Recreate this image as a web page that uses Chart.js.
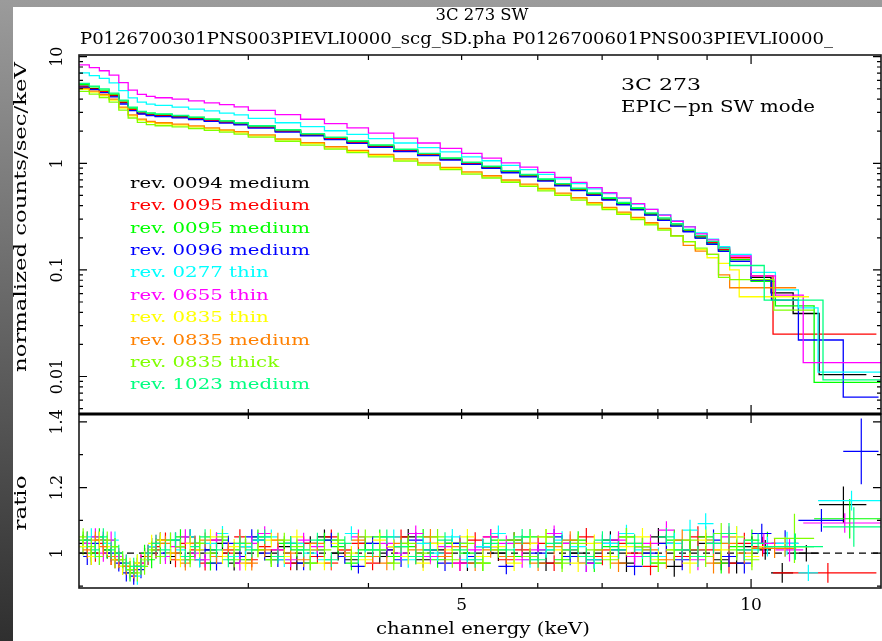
<!DOCTYPE html>
<html>
<head>
<meta charset="utf-8">
<title>3C 273 SW</title>
<script src="https://cdn.jsdelivr.net/npm/chart.js@4.4.1/dist/chart.umd.min.js"></script>
<style>
  html, body { margin: 0; padding: 0; }
  body { width: 882px; height: 641px; overflow: hidden; position: relative;
         background: linear-gradient(to bottom, #9b9b9b, #2f2f2f); }
  #paper { position: absolute; left: 13px; top: 7px; right: 0; bottom: 0; background: #fff; }
  canvas { position: absolute; left: 0; top: 0; }
</style>
</head>
<body>
<div id="paper"></div>
<canvas id="spec" width="882" height="641"></canvas>
<canvas id="ratio" width="882" height="641"></canvas>
<script>
// Series (legend order = plot order)
var seriesLabels = ['rev. 0094 medium', 'rev. 0095 medium', 'rev. 0095 medium', 'rev. 0096 medium',
  'rev. 0277 thin', 'rev. 0655 thin', 'rev. 0835 thin', 'rev. 0835 medium', 'rev. 0835 thick', 'rev. 1023 medium'];
var seriesColors = ['#000000', '#ff0000', '#00ff00', '#0000ff', '#00ffff',
  '#ff00ff', '#ffff00', '#ff8000', '#80ff00', '#00ff80'];

// Upper panel: counts/sec/keV, bin edges in keV (shared part, 2 - 9.5 keV)
var specEdges = [2.0, 2.05, 2.1, 2.15, 2.2, 2.25, 2.3, 2.35, 2.4, 2.5, 2.6, 2.7, 2.8, 2.9, 3.0,
  3.2, 3.4, 3.6, 3.8, 4.0, 4.25, 4.5, 4.75, 5.0, 5.25, 5.5, 5.75, 6.0, 6.25, 6.5, 6.75, 7.0,
  7.25, 7.5, 7.75, 8.0, 8.25, 8.5, 8.75, 9.0, 9.25, 9.5];

var spec_0094_medium = [5.3, 5.0, 4.7, 4.3, 3.7, 3.2, 2.95, 2.85, 2.8, 2.72, 2.62, 2.52, 2.43, 2.33, 2.18, 2.0, 1.84, 1.70, 1.57, 1.44,
  1.31, 1.20, 1.09, 0.99, 0.91, 0.83, 0.76, 0.69, 0.625, 0.565, 0.51, 0.46, 0.415, 0.37, 0.33, 0.295, 0.26, 0.23, 0.20, 0.175, 0.15];
var spec_0095_medium = [5.2, 4.95, 4.7, 4.35, 3.75, 3.2, 2.93, 2.83, 2.78, 2.7, 2.61, 2.52, 2.43, 2.33, 2.17, 2.0, 1.85, 1.71, 1.57, 1.45,
  1.32, 1.21, 1.10, 1.0, 0.92, 0.84, 0.77, 0.70, 0.63, 0.57, 0.515, 0.465, 0.42, 0.375, 0.335, 0.30, 0.265, 0.235, 0.205, 0.18, 0.155];
var spec_0095_medium_b = [5.5, 5.2, 4.85, 4.45, 3.85, 3.3, 3.05, 2.95, 2.88, 2.8, 2.7, 2.6, 2.5, 2.4, 2.24, 2.06, 1.89, 1.75, 1.61, 1.48,
  1.35, 1.23, 1.12, 1.02, 0.93, 0.85, 0.78, 0.705, 0.64, 0.575, 0.52, 0.47, 0.42, 0.375, 0.335, 0.30, 0.263, 0.232, 0.202, 0.176, 0.151];
var spec_0096_medium = [5.15, 4.9, 4.6, 4.2, 3.6, 3.12, 2.9, 2.8, 2.74, 2.67, 2.57, 2.47, 2.38, 2.29, 2.14, 1.96, 1.81, 1.67, 1.54, 1.41,
  1.29, 1.18, 1.07, 0.975, 0.895, 0.815, 0.745, 0.68, 0.615, 0.555, 0.5, 0.452, 0.408, 0.365, 0.326, 0.291, 0.257, 0.228, 0.199, 0.174, 0.149];
var spec_0277_thin = [7.05, 6.65, 6.25, 5.68, 4.81, 4.1, 3.75, 3.59, 3.5, 3.37, 3.22, 3.1, 2.96, 2.84, 2.64, 2.4, 2.21, 2.02, 1.87, 1.70,
  1.55, 1.40, 1.28, 1.15, 1.056, 0.955, 0.874, 0.787, 0.713, 0.644, 0.576, 0.52, 0.469, 0.414, 0.37, 0.33, 0.289, 0.255, 0.222, 0.194, 0.165];
var spec_0655_thin = [8.37, 7.9, 7.38, 6.7, 5.7, 4.86, 4.43, 4.25, 4.12, 4.0, 3.85, 3.68, 3.55, 3.38, 3.14, 2.86, 2.59, 2.36, 2.15, 1.92,
  1.72, 1.55, 1.38, 1.24, 1.12, 1.01, 0.92, 0.821, 0.738, 0.661, 0.592, 0.529, 0.473, 0.418, 0.37, 0.327, 0.286, 0.253, 0.218, 0.191, 0.162];
var spec_0835_thin = [4.93, 4.65, 4.32, 3.91, 3.29, 2.78, 2.54, 2.42, 2.35, 2.28, 2.2, 2.1, 2.02, 1.93, 1.81, 1.66, 1.53, 1.39, 1.29, 1.18,
  1.07, 0.984, 0.894, 0.812, 0.746, 0.681, 0.623, 0.566, 0.513, 0.463, 0.418, 0.377, 0.34, 0.303, 0.271, 0.242, 0.21, 0.183, 0.155, 0.13, 0.115];
var spec_0835_medium = [5.04, 4.75, 4.42, 4.0, 3.37, 2.85, 2.6, 2.47, 2.4, 2.33, 2.24, 2.15, 2.06, 1.98, 1.85, 1.69, 1.56, 1.43, 1.32, 1.21,
  1.1, 1.01, 0.916, 0.832, 0.764, 0.697, 0.638, 0.58, 0.525, 0.475, 0.428, 0.386, 0.349, 0.311, 0.277, 0.245, 0.21, 0.17, 0.15, 0.14, 0.09];
var spec_0835_thick = [4.72, 4.45, 4.14, 3.74, 3.15, 2.66, 2.42, 2.31, 2.25, 2.2, 2.12, 2.04, 1.96, 1.88, 1.76, 1.61, 1.48, 1.36, 1.26, 1.15,
  1.05, 0.96, 0.872, 0.792, 0.728, 0.664, 0.608, 0.552, 0.5, 0.452, 0.408, 0.368, 0.332, 0.296, 0.264, 0.236, 0.208, 0.184, 0.16, 0.14, 0.085];
var spec_1023_medium = [5.62, 5.3, 4.98, 4.56, 3.92, 3.36, 3.07, 2.96, 2.9, 2.81, 2.71, 2.6, 2.5, 2.4, 2.25, 2.06, 1.9, 1.75, 1.62, 1.48,
  1.35, 1.24, 1.12, 1.02, 0.94, 0.855, 0.785, 0.712, 0.645, 0.583, 0.527, 0.476, 0.43, 0.384, 0.343, 0.307, 0.271, 0.24, 0.21, 0.185, 0.16];

// High-energy wide bins, one list per series
var specTailEdges = [
  [9.5, 10.0, 10.49, 11.06, 11.77, 13.18],
  [9.5, 10.0, 10.54, 13.5],
  [9.5, 10.0, 10.6, 11.63, 13.7],
  [9.5, 10.0, 10.5, 11.2, 12.47, 13.57],
  [9.5, 10.0, 10.6, 11.2, 11.74, 13.7],
  [9.5, 10.0, 10.6, 11.33, 13.7],
  [9.5, 9.72, 11.49],
  [9.5, 11.14],
  [9.5, 10.56, 11.63],
  [9.5, 10.32, 11.88, 13.7]
];
var specTailCounts = [
  [0.12, 0.085, 0.061, 0.039, 0.0104],
  [0.13, 0.088, 0.025],
  [0.125, 0.078, 0.046, 0.0088],
  [0.12, 0.08, 0.052, 0.022, 0.0064],
  [0.14, 0.095, 0.065, 0.044, 0.011],
  [0.135, 0.088, 0.058, 0.0135],
  [0.1, 0.056],
  [0.068],
  [0.081, 0.042],
  [0.11, 0.052, 0.0093]
];

// Lower panel: data/model ratio. Two binnings (A for even series, B for odd)
var ratioEdgesA = [2.00, 2.04, 2.08, 2.12, 2.16, 2.20, 2.24, 2.28, 2.32, 2.36, 2.40, 2.46, 2.52, 2.58, 2.64, 2.70,
  2.78, 2.86, 2.94, 3.02, 3.12, 3.22, 3.32, 3.42, 3.54, 3.66, 3.78, 3.90, 4.04, 4.18, 4.32, 4.48, 4.64, 4.80,
  4.98, 5.16, 5.36, 5.56, 5.78, 6.00, 6.24, 6.48, 6.74, 7.00, 7.28, 7.56, 7.86, 8.16, 8.48, 8.80, 9.14, 9.48, 9.84, 10.20];
var ratioEdgesB = [2.02, 2.06, 2.10, 2.14, 2.18, 2.22, 2.26, 2.30, 2.34, 2.38, 2.43, 2.49, 2.55, 2.61, 2.67, 2.74,
  2.82, 2.90, 2.98, 3.07, 3.17, 3.27, 3.37, 3.48, 3.60, 3.72, 3.84, 3.97, 4.11, 4.25, 4.40, 4.56, 4.72, 4.89,
  5.07, 5.26, 5.46, 5.67, 5.89, 6.12, 6.36, 6.61, 6.87, 7.14, 7.42, 7.71, 8.01, 8.32, 8.64, 8.97, 9.31, 9.66, 10.02];
var ratioErrA = [0.026, 0.026, 0.026, 0.026, 0.026, 0.026, 0.026, 0.026, 0.026, 0.026,
  0.023, 0.023, 0.023, 0.023, 0.023, 0.023, 0.023, 0.023, 0.023,
  0.022, 0.022, 0.022, 0.022, 0.022, 0.022, 0.022, 0.022, 0.022, 0.022, 0.022,
  0.024, 0.024, 0.024, 0.024, 0.024, 0.024, 0.024, 0.024, 0.024, 0.024,
  0.027, 0.027, 0.027, 0.027, 0.027, 0.027, 0.027,
  0.032, 0.032, 0.032, 0.032, 0.032, 0.032];
var ratioErrB = [0.026, 0.026, 0.026, 0.026, 0.026, 0.026, 0.026, 0.026, 0.026, 0.026,
  0.023, 0.023, 0.023, 0.023, 0.023, 0.023, 0.023, 0.023, 0.023,
  0.022, 0.022, 0.022, 0.022, 0.022, 0.022, 0.022, 0.022, 0.022, 0.022, 0.022,
  0.024, 0.024, 0.024, 0.024, 0.024, 0.024, 0.024, 0.024, 0.024, 0.024,
  0.027, 0.027, 0.027, 0.027, 0.027, 0.027, 0.027,
  0.032, 0.032, 0.032, 0.032, 0.032];

var ratio_0094_medium = [1.03, 0.99, 1.04, 1.01, 0.98, 0.97, 0.95, 0.96, 0.99, 1.02,
  1.04, 0.99, 1.02, 1.05, 0.98, 1.01, 1.03, 0.97, 1.02, 1.04,
  0.99, 1.02, 0.97, 1.03, 1.05, 1.00, 0.98, 1.03, 0.99, 1.02,
  1.05, 0.98, 1.01, 1.03, 0.97, 1.02, 1.00, 1.04, 0.99, 0.97,
  1.03, 1.00, 0.98, 1.04, 0.97, 1.02, 1.05, 0.96, 1.01, 1.03,
  0.98, 0.97, 1.02];
var ratio_0095_medium = [1.04, 1.00, 1.03, 0.99, 0.98, 0.96, 0.94, 0.97, 1.00, 1.02,
  1.04, 0.98, 1.03, 1.01, 0.97, 1.04, 1.00, 1.05, 0.98, 1.02,
  1.01, 0.97, 1.03, 0.99, 1.05, 1.01, 1.03, 0.97, 1.01, 1.05,
  0.99, 1.03, 1.00, 0.97, 1.04, 1.05, 0.98, 1.01, 1.03, 0.97,
  1.01, 1.05, 0.99, 1.03, 1.00, 0.96, 1.03, 0.99, 1.05, 1.01,
  0.97, 1.03];
var ratio_0095_medium_b = [1.04, 1.00, 1.05, 1.01, 1.02, 0.96, 0.94, 0.97, 1.00, 0.98,
  1.03, 1.00, 1.05, 0.99, 1.03, 0.97, 1.04, 1.01, 0.98, 1.05,
  0.98, 1.03, 1.01, 0.97, 1.04, 1.02, 0.97, 1.01, 1.05, 0.99,
  1.02, 1.05, 0.98, 1.03, 1.00, 0.97, 1.04, 0.99, 1.05, 1.01,
  0.98, 1.04, 0.97, 1.02, 1.05, 0.99, 0.97, 1.04, 1.01, 1.05,
  0.97, 1.02, 1.04];
var ratio_0096_medium = [0.99, 1.03, 1.04, 1.00, 0.97, 0.94, 0.93, 0.95, 0.99, 1.01,
  1.00, 1.04, 0.98, 1.03, 1.01, 0.97, 1.03, 0.99, 1.05, 1.00,
  0.98, 1.03, 0.97, 1.01, 1.04, 0.99, 0.96, 1.03, 1.01, 0.98,
  1.04, 1.01, 0.97, 1.03, 0.99, 1.02, 0.96, 1.03, 1.00, 1.05,
  0.99, 0.97, 1.03, 1.01, 0.96, 1.00, 1.03, 0.98, 1.01, 1.04,
  0.99, 0.97];
var ratio_0277_thin = [1.02, 1.05, 0.99, 1.03, 1.04, 0.98, 0.95, 0.93, 0.98, 1.02,
  0.99, 1.04, 1.01, 1.05, 0.98, 1.03, 1.06, 0.99, 1.02, 1.04,
  1.05, 0.98, 1.03, 1.00, 0.98, 1.04, 1.06, 0.99, 1.01, 1.05,
  0.98, 1.03, 1.00, 1.05, 0.98, 1.02, 1.06, 1.03, 0.98, 1.01,
  1.04, 1.02, 0.98, 1.03, 1.06, 1.01, 0.99, 1.03, 1.07, 1.09,
  1.03, 1.05, 1.01];
var ratio_0655_thin = [1.03, 1.05, 1.00, 1.04, 0.99, 0.97, 0.95, 0.97, 1.00, 1.03,
  0.99, 1.02, 1.05, 1.00, 0.98, 1.04, 1.01, 0.97, 1.03, 1.06,
  1.01, 0.98, 1.04, 1.02, 0.97, 1.01, 1.05, 0.99, 1.03, 1.00,
  1.06, 0.99, 1.02, 0.97, 1.01, 1.05, 1.03, 0.98, 1.01, 1.06,
  1.03, 0.97, 1.01, 1.04, 0.99, 1.03, 1.07, 1.01, 0.98, 1.03,
  1.05, 1.01];
var ratio_0835_thin = [1.02, 0.99, 1.04, 1.02, 0.98, 0.96, 0.96, 0.97, 0.98, 1.03,
  1.04, 1.00, 0.98, 1.03, 1.01, 1.05, 0.99, 1.02, 0.97, 1.01,
  1.04, 0.99, 1.05, 1.01, 0.97, 1.03, 1.00, 0.98, 1.04, 1.02,
  0.99, 0.97, 1.03, 1.01, 1.05, 0.99, 1.02, 0.97, 1.03, 1.05,
  1.01, 0.97, 1.03, 0.99, 1.02, 1.05, 0.98, 1.01, 0.97, 1.04,
  1.01, 1.05, 0.99];
var ratio_0835_medium = [1.01, 1.04, 1.02, 0.99, 0.98, 0.96, 0.95, 0.96, 0.99, 1.01,
  1.03, 1.00, 0.97, 1.03, 1.04, 0.99, 1.01, 1.03, 0.97, 1.01,
  1.04, 1.00, 0.98, 1.03, 0.97, 1.01, 1.04, 0.99, 0.97, 1.03,
  1.01, 1.05, 0.99, 1.02, 0.97, 1.01, 0.99, 1.03, 0.97, 1.02,
  1.04, 0.99, 1.01, 0.97, 1.03, 1.01, 0.98, 1.04, 1.01, 0.97,
  1.03, 1.00];
var ratio_0835_thick = [1.05, 1.02, 0.99, 1.04, 1.02, 0.98, 0.95, 0.94, 0.96, 1.01,
  0.99, 1.04, 1.02, 0.98, 1.03, 1.00, 1.05, 0.98, 1.03, 1.01,
  0.98, 1.04, 1.02, 0.97, 1.01, 1.04, 0.99, 1.05, 1.01, 0.97,
  1.03, 1.00, 1.05, 0.98, 1.03, 0.97, 1.01, 1.04, 0.99, 1.05,
  0.97, 1.03, 1.01, 0.98, 1.05, 1.02, 0.97, 1.01, 1.04, 0.99,
  1.06, 1.01, 0.98];
var ratio_1023_medium = [1.04, 1.01, 1.05, 1.01, 1.00, 0.97, 0.96, 0.96, 1.00, 1.03,
  1.01, 1.04, 0.99, 1.02, 1.05, 1.01, 0.98, 1.03, 1.01, 1.05,
  0.99, 1.03, 1.01, 1.04, 0.98, 1.03, 0.99, 1.01, 1.05, 1.02,
  0.99, 1.01, 1.04, 1.01, 0.98, 1.03, 1.01, 1.05, 0.98, 1.03,
  1.01, 0.99, 1.04, 1.01, 1.03, 0.99, 1.05, 1.01, 0.99, 1.03,
  1.06, 1.01];

// High-energy ratio bins: [E low, E high, ratio, error]
var ratioTails = [
  [[10.2, 10.49, 1.01, 0.03], [10.49, 11.06, 0.94, 0.03], [11.06, 11.77, 1.0, 0.025], [11.77, 13.18, 1.148, 0.055]],
  [[10.02, 10.54, 1.02, 0.03], [10.54, 13.5, 0.94, 0.03]],
  [[10.2, 10.6, 1.03, 0.035], [10.6, 11.63, 1.02, 0.04], [11.63, 13.7, 1.105, 0.06]],
  [[10.02, 10.5, 1.06, 0.03], [10.5, 11.2, 1.03, 0.04], [11.2, 12.47, 1.10, 0.035], [12.47, 13.57, 1.31, 0.10]],
  [[10.2, 10.6, 1.02, 0.03], [10.6, 11.2, 1.03, 0.035], [11.2, 11.74, 0.94, 0.025], [11.74, 13.7, 1.16, 0.03]],
  [[10.02, 10.6, 1.03, 0.03], [10.6, 11.33, 1.01, 0.035], [11.33, 13.7, 1.092, 0.03]],
  [[10.2, 11.49, 1.02, 0.03]],
  [[10.02, 11.14, 1.015, 0.03]],
  [[10.56, 11.63, 1.045, 0.075]],
  [[10.02, 10.32, 1.03, 0.03], [10.32, 11.88, 1.02, 0.04], [11.88, 13.7, 1.08, 0.06]]
];

// Axis ticks
var xMinorTicks = [3, 4, 5, 6, 7, 8, 9];
var xMajorTicks = [10];
var xTickLabels = [5, 10];
var specYMajor = [0.01, 0.1, 1, 10];
var ratioYMajor = [1, 1.2, 1.4];
var ratioYMinor = [0.9, 1.1, 1.3];

var specSeries = [spec_0094_medium, spec_0095_medium, spec_0095_medium_b, spec_0096_medium, spec_0277_thin,
  spec_0655_thin, spec_0835_thin, spec_0835_medium, spec_0835_thick, spec_1023_medium];
var ratioSeries = [ratio_0094_medium, ratio_0095_medium, ratio_0095_medium_b, ratio_0096_medium, ratio_0277_thin,
  ratio_0655_thin, ratio_0835_thin, ratio_0835_medium, ratio_0835_thick, ratio_1023_medium];

var X_MIN = 2.0, X_MAX = 13.65;
var FONT = '"DejaVu Serif", "Liberation Serif", serif';

// text in the plot style; width stretches the string horizontally
function pgText(ctx, s, x, y, o) {
  o = o || {};
  ctx.save();
  ctx.font = (o.size || 15) + 'px ' + FONT;
  ctx.fillStyle = o.color || '#000';
  ctx.textBaseline = 'middle';
  ctx.textAlign = o.align || 'center';
  var w = ctx.measureText(s).width;
  var sx = o.width ? o.width / w : (o.sx || 1);
  ctx.translate(x, y);
  if (o.rot) ctx.rotate(o.rot);
  ctx.scale(sx, 1);
  ctx.fillText(s, 0, 0);
  ctx.restore();
}

function logMinors(lo, hi) {
  var out = [];
  for (var e = Math.floor(Math.log10(lo)); e <= Math.ceil(Math.log10(hi)); e++) {
    for (var m = 2; m <= 9; m++) {
      var v = m * Math.pow(10, e);
      if (v >= lo && v <= hi) out.push(v);
    }
  }
  return out;
}

// Frame with inward ticks on all four sides
function pgAxes(cfg) {
  return {
    id: 'pgAxes',
    afterDraw: function(chart) {
      var ctx = chart.ctx, a = chart.chartArea, xs = chart.scales.x, ys = chart.scales.y;
      ctx.save();
      ctx.strokeStyle = '#000';
      ctx.lineWidth = 1.2;
      ctx.beginPath();
      xMinorTicks.forEach(function(v) {
        var p = xs.getPixelForValue(v);
        ctx.moveTo(p, a.top); ctx.lineTo(p, a.top + 5);
        ctx.moveTo(p, a.bottom); ctx.lineTo(p, a.bottom - 5);
      });
      xMajorTicks.forEach(function(v) {
        var p = xs.getPixelForValue(v);
        ctx.moveTo(p, a.top); ctx.lineTo(p, a.top + 9);
        ctx.moveTo(p, a.bottom); ctx.lineTo(p, a.bottom - 9);
      });
      cfg.yMinor.forEach(function(v) {
        var p = ys.getPixelForValue(v);
        ctx.moveTo(a.left, p); ctx.lineTo(a.left + 4, p);
        ctx.moveTo(a.right, p); ctx.lineTo(a.right - 4, p);
      });
      cfg.yMajor.forEach(function(v) {
        var p = ys.getPixelForValue(v);
        ctx.moveTo(a.left, p); ctx.lineTo(a.left + 8, p);
        ctx.moveTo(a.right, p); ctx.lineTo(a.right - 8, p);
      });
      ctx.stroke();
      ctx.lineWidth = 1.6;
      ctx.strokeStyle = '#1a1a1a';
      ctx.strokeRect(a.left, a.top, a.right - a.left, a.bottom - a.top);
      cfg.yMajor.forEach(function(v) {
        pgText(ctx, String(v), 58, ys.getPixelForValue(v), { size: 16, rot: -Math.PI / 2 });
      });
      if (cfg.extra) cfg.extra(chart);
      ctx.restore();
    }
  };
}

// Error crosses for the ratio panel
var crossPlugin = {
  id: 'crosses',
  afterDatasetsDraw: function(chart) {
    var ctx = chart.ctx, a = chart.chartArea, xs = chart.scales.x, ys = chart.scales.y;
    ctx.save();
    ctx.beginPath();
    ctx.rect(a.left, a.top, a.right - a.left, a.bottom - a.top);
    ctx.clip();
    ctx.lineWidth = 1.2;
    chart.data.datasets.forEach(function(ds) {
      if (!ds.crosses) return;
      ctx.strokeStyle = ds.borderColor;
      ctx.beginPath();
      ds.data.forEach(function(p) {
        var px = xs.getPixelForValue(p.x), py = ys.getPixelForValue(p.y);
        ctx.moveTo(xs.getPixelForValue(p.lo), py);
        ctx.lineTo(xs.getPixelForValue(p.hi), py);
        ctx.moveTo(px, ys.getPixelForValue(p.y - p.e));
        ctx.lineTo(px, ys.getPixelForValue(p.y + p.e));
      });
      ctx.stroke();
    });
    ctx.restore();
  }
};

function stepPoints(k) {
  var vals = specSeries[k], pts = [];
  for (var i = 0; i < vals.length; i++) pts.push({ x: specEdges[i], y: vals[i] });
  var te = specTailEdges[k], tc = specTailCounts[k];
  for (var j = 0; j < tc.length; j++) pts.push({ x: te[j], y: tc[j] });
  pts.push({ x: te[te.length - 1], y: tc[tc.length - 1] });
  return pts;
}

function ratioPoints(k) {
  var edges = k % 2 === 0 ? ratioEdgesA : ratioEdgesB;
  var errs = k % 2 === 0 ? ratioErrA : ratioErrB;
  var vals = ratioSeries[k], pts = [];
  for (var i = 0; i < vals.length && i + 1 < edges.length; i++) {
    pts.push({ x: (edges[i] + edges[i + 1]) / 2, y: vals[i], lo: edges[i], hi: edges[i + 1], e: errs[i] });
  }
  ratioTails[k].forEach(function(t) {
    pts.push({ x: (t[0] + t[1]) / 2, y: t[2], lo: t[0], hi: t[1], e: t[3] });
  });
  return pts;
}

var specSets = seriesLabels.map(function(label, k) {
  return {
    label: label, data: stepPoints(k), borderColor: seriesColors[k], borderWidth: 1.3,
    stepped: 'before', pointRadius: 0, fill: false, order: 9 - k
  };
});

var ratioSets = [{
  label: 'unity', data: [{ x: X_MIN, y: 1 }, { x: X_MAX, y: 1 }], borderColor: '#000',
  borderWidth: 1.2, borderDash: [7, 5], pointRadius: 0, fill: false
}].concat(seriesLabels.map(function(label, k) {
  return { label: label, data: ratioPoints(k), borderColor: seriesColors[k], showLine: false, pointRadius: 0, crosses: true };
}));

function baseOptions(padding, yType, yMin, yMax) {
  return {
    responsive: false,
    animation: false,
    events: [],
    layout: { padding: padding },
    plugins: { legend: { display: false }, tooltip: { enabled: false } },
    scales: {
      x: { type: 'logarithmic', min: X_MIN, max: X_MAX, display: false },
      y: { type: yType, min: yMin, max: yMax, display: false }
    }
  };
}

new Chart(document.getElementById('spec'), {
  type: 'line',
  data: { datasets: specSets },
  options: baseOptions({ left: 79, top: 55, right: 1, bottom: 227 }, 'logarithmic', 0.00445, 10.37),
  plugins: [pgAxes({
    yMajor: specYMajor,
    yMinor: logMinors(0.00445, 10.37),
    extra: function(chart) {
      var ctx = chart.ctx;
      pgText(ctx, '3C 273 SW', 482, 16, { size: 17, width: 93 });
      pgText(ctx, 'P0126700301PNS003PIEVLI0000_scg_SD.pha P0126700601PNS003PIEVLI0000_', 80, 40,
        { size: 17, width: 753, align: 'left' });
      pgText(ctx, '3C 273', 621, 86, { size: 16, width: 80, align: 'left' });
      pgText(ctx, 'EPIC\u2212pn SW mode', 621, 108, { size: 16, width: 194, align: 'left' });
      pgText(ctx, 'normalized counts/sec/keV', 22, 217, { size: 17, width: 310, rot: -Math.PI / 2 });
      ctx.font = '15px ' + FONT;
      var sx = 180 / ctx.measureText(seriesLabels[0]).width;
      seriesLabels.forEach(function(s, k) {
        pgText(ctx, s, 130, 184 + 22.4 * k, { size: 15, sx: sx, align: 'left', color: seriesColors[k] });
      });
    }
  })]
});

new Chart(document.getElementById('ratio'), {
  type: 'line',
  data: { datasets: ratioSets },
  options: baseOptions({ left: 79, top: 414, right: 1, bottom: 53 }, 'linear', 0.894, 1.424),
  plugins: [crossPlugin, pgAxes({
    yMajor: ratioYMajor,
    yMinor: ratioYMinor,
    extra: function(chart) {
      var ctx = chart.ctx, a = chart.chartArea, xs = chart.scales.x;
      ctx.lineWidth = 3;
      ctx.strokeStyle = '#000';
      ctx.beginPath();
      ctx.moveTo(a.left, a.top); ctx.lineTo(a.right, a.top);
      ctx.stroke();
      xTickLabels.forEach(function(v) {
        pgText(ctx, String(v), xs.getPixelForValue(v), 606, { size: 17 });
      });
      pgText(ctx, 'channel energy (keV)', 483, 630, { size: 17, width: 214 });
      pgText(ctx, 'ratio', 22, 503, { size: 17, width: 55, rot: -Math.PI / 2 });
    }
  })]
});
</script>
</body>
</html>
